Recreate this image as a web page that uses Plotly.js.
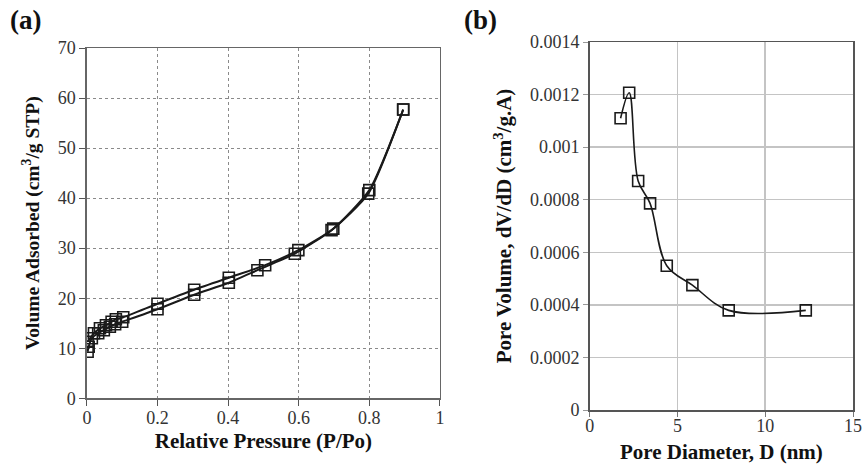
<!DOCTYPE html>
<html>
<head>
<meta charset="utf-8">
<script src="https://cdn.plot.ly/plotly-3.0.1.min.js"></script>
<style>html,body{margin:0;padding:0;background:#fff;}#chart{width:863px;height:464px;}</style>
</head>
<body>
<div id="chart"></div>
<script>
// Panel (a): N2 isotherm, adsorption branch
const adsP = [0.002, 0.005, 0.014, 0.032, 0.048, 0.065, 0.08, 0.1, 0.2, 0.304, 0.402, 0.483, 0.589, 0.693, 0.797, 0.896];
const adsV = [9.3, 10.3, 12.0, 13.0, 13.6, 14.3, 14.8, 15.3, 17.8, 20.7, 23.1, 25.6, 28.9, 33.6, 40.9, 57.7];
// Panel (a): desorption branch
const desP = [0.896, 0.8, 0.698, 0.599, 0.505, 0.402, 0.304, 0.2, 0.103, 0.082, 0.07, 0.054, 0.037, 0.02, 0.002];
const desV = [57.7, 41.6, 33.9, 29.6, 26.6, 24.1, 21.7, 18.9, 16.2, 15.8, 15.3, 14.6, 14.0, 13.0, 11.3];
// Panel (b): pore size distribution
const poreD = [1.76, 2.25, 2.76, 3.44, 4.39, 5.85, 7.92, 12.31];
const poreV = [0.00111, 0.001207, 0.000871, 0.000786, 0.000549, 0.000475, 0.000379, 0.000379];
// tick labels for panel (b) y axis
const bTickVals = [0, 0.0002, 0.0004, 0.0006, 0.0008, 0.001, 0.0012, 0.0014];
const bTickText = ["0", "0.0002", "0.0004", "0.0006", "0.0008", "0.001", "0.0012", "0.0014"];

const serif = "'Liberation Serif', 'Times New Roman', Times, serif";
const mk = {symbol: "square-open", size: 11, color: "#1a1a1a", line: {width: 1.6, color: "#1a1a1a"}};

const traces = [
  {x: adsP, y: adsV, xaxis: "x", yaxis: "y", mode: "lines+markers", line: {color: "#1a1a1a", width: 2, shape: "spline", smoothing: 0.6}, marker: mk, hoverinfo: "x+y"},
  {x: desP, y: desV, xaxis: "x", yaxis: "y", mode: "lines+markers", line: {color: "#1a1a1a", width: 2, shape: "spline", smoothing: 0.6}, marker: mk, hoverinfo: "x+y"},
  {x: poreD, y: poreV, xaxis: "x2", yaxis: "y2", mode: "lines+markers", line: {color: "#1a1a1a", width: 1.6, shape: "spline", smoothing: 1}, marker: mk, hoverinfo: "x+y"}
];

const tickFont = {family: serif, size: 18, color: "#333"};
const titleFont = {family: serif, size: 21, color: "#111", weight: "bold"};
const titleFontA = {family: serif, size: 19.5, color: "#111", weight: "bold"};

const layout = {
  width: 863, height: 464,
  margin: {l: 0, r: 0, t: 0, b: 0},
  paper_bgcolor: "#fff", plot_bgcolor: "#fff",
  showlegend: false,
  font: {family: serif},
  xaxis: {
    domain: [86.9/863, 439.9/863], anchor: "y", range: [0, 1], dtick: 0.2,
    showgrid: true, gridcolor: "#8a8a8a", griddash: "dot", gridwidth: 1,
    zeroline: false, showline: true, linecolor: "#666", linewidth: 1.5, mirror: true,
    ticks: "outside", ticklen: 6, tickcolor: "#555", tickfont: tickFont, ticklabelstandoff: -3,
    title: {text: "Relative Pressure (P/Po)", font: titleFont, standoff: 6}
  },
  yaxis: {
    domain: [(464-398.3)/464, (464-48)/464], anchor: "x", range: [0, 70], dtick: 10,
    showgrid: true, gridcolor: "#8a8a8a", griddash: "dot", gridwidth: 1,
    zeroline: false, showline: true, linecolor: "#666", linewidth: 1.5, mirror: true,
    ticks: "outside", ticklen: 6, tickcolor: "#555", tickfont: tickFont,
    title: {text: "Volume Adsorbed (cm<sup>3</sup>/g STP)", font: titleFontA, standoff: 13}
  },
  xaxis2: {
    domain: [589.7/863, 853/863], anchor: "y2", range: [0, 15], dtick: 5,
    showgrid: true, gridcolor: "#c4c4c4", gridwidth: 1.5,
    zeroline: false, showline: true, linecolor: "#555", linewidth: 1.5, mirror: true,
    ticks: "outside", ticklen: 5, tickcolor: "#777", tickfont: tickFont, ticklabelstandoff: -6,
    title: {text: "Pore Diameter, D (nm)", font: titleFont, standoff: 9}
  },
  yaxis2: {
    domain: [(464-410)/464, (464-42)/464], anchor: "x2", range: [0, 0.0014],
    tickmode: "array", tickvals: bTickVals, ticktext: bTickText,
    showgrid: true, gridcolor: "#c4c4c4", gridwidth: 1.5,
    zeroline: false, showline: true, linecolor: "#555", linewidth: 1.5, mirror: true,
    ticks: "outside", ticklen: 5, tickcolor: "#999", tickfont: tickFont,
    title: {text: "Pore Volume, dV/dD (cm<sup>3</sup>/g.A)", font: titleFont, standoff: 12}
  },
  annotations: [
    {text: "<b>(a)</b>", xref: "paper", yref: "paper", x: 8/863, y: 1 - 20/464, xanchor: "left", yanchor: "middle", showarrow: false, font: {family: serif, size: 27, color: "#111"}},
    {text: "<b>(b)</b>", xref: "paper", yref: "paper", x: 462/863, y: 1 - 20/464, xanchor: "left", yanchor: "middle", showarrow: false, font: {family: serif, size: 27, color: "#111"}}
  ]
};

Plotly.newPlot("chart", traces, layout, {displayModeBar: false, staticPlot: true});
</script>
</body>
</html>
